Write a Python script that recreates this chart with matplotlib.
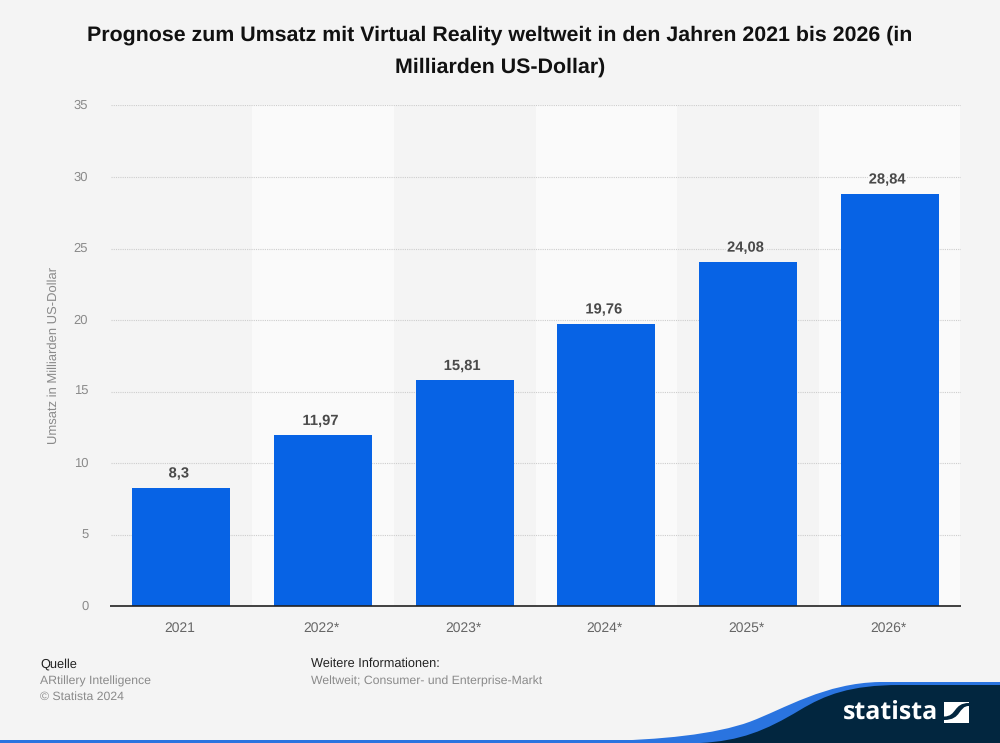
import matplotlib
matplotlib.use("Agg")
import matplotlib.pyplot as plt
import matplotlib.patheffects as pe
from matplotlib.path import Path
from matplotlib.patches import PathPatch, Rectangle
from matplotlib.transforms import ScaledTranslation

plt.rcParams['font.family'] = ['Liberation Sans', 'DejaVu Sans']
plt.rcParams['text.hinting'] = 'none'

# chart values
years = ['2021', '2022*', '2023*', '2024*', '2025*', '2026*']
revenue = [8.3, 11.97, 15.81, 19.76, 24.08, 28.84]
value_labels = ['8,3', '11,97', '15,81', '19,76', '24,08', '28,84']
y_ticks = [0, 5, 10, 15, 20, 25, 30, 35]

W, H = 1000, 743
BG = '#f4f4f4'
BAND = '#fafafa'
BLUE = '#0763e5'
NAVY = '#02263f'
SWOOSH = '#2a74e0'

fig = plt.figure(figsize=(W / 100, H / 100), dpi=100, facecolor=BG)

# overlay in pixel coords for footer shapes, y pointing down
deco = fig.add_axes([0, 0, 1, 1], zorder=0)
deco.set_xlim(0, W)
deco.set_ylim(H, 0)
deco.axis('off')

# axes area in pixels, baseline at 606.3, about 14.31 px per unit
ax_left, ax_right, ax_bottom, ax_top = 110.5, 960.5, 606.3, 104.5
ax = fig.add_axes([ax_left / W, 1 - ax_bottom / H, (ax_right - ax_left) / W, (ax_bottom - ax_top) / H], zorder=1)
ax.patch.set_alpha(0)
ax.set_xlim(-0.5, len(years) - 0.5)
ax.set_ylim(0, (ax_bottom - ax_top) / 14.31)

# lighter band behind every second category
for i in range(1, len(years), 2):
    ax.axvspan(i - 0.5, i + 0.5, color=BAND, lw=0, zorder=0)

ax.set_yticks(y_ticks)
ax.yaxis.grid(True, color='#cdcdcd', lw=0.8, ls=(0, (1, 1)), zorder=1)
ax.set_axisbelow(True)

bars = ax.bar(range(len(years)), revenue, width=0.69, color=BLUE, zorder=2)
for i, (bar, lab) in enumerate(zip(bars, value_labels)):
    halo = BAND if i % 2 else BG
    ax.annotate(lab, (bar.get_x() + bar.get_width() / 2, bar.get_height()),
                xytext=(-1.8, 5.0), textcoords='offset points', ha='center', va='bottom',
                fontsize=10.6, fontweight='bold', color='#4a4a4a', zorder=3,
                path_effects=[pe.withStroke(linewidth=3, foreground=halo)])

for s in ['top', 'left', 'right']:
    ax.spines[s].set_visible(False)
ax.spines['bottom'].set_color('#222222')
ax.spines['bottom'].set_linewidth(1.2)
ax.spines['bottom'].set_capstyle('butt')
ax.spines['bottom'].set_zorder(4)

ax.set_xticks(range(len(years)))
ax.set_xticklabels(years)
ax.tick_params(axis='x', length=0, pad=11, labelsize=10, labelcolor='#666666')
ax.tick_params(axis='y', length=0, pad=16, labelsize=9.4, labelcolor='#8a8a8a')
# tick labels sit a little off the bar centres and gridlines
shift_x = ScaledTranslation(-1.5 / 100, 0, fig.dpi_scale_trans)
for t in ax.get_xticklabels():
    t.set_transform(t.get_transform() + shift_x)
shift_y = ScaledTranslation(0, 1 / 100, fig.dpi_scale_trans)
for t in ax.get_yticklabels():
    t.set_transform(t.get_transform() + shift_y)

fig.text(53.5 / W, 1 - 355 / H, 'Umsatz in Milliarden US-Dollar', rotation=90, ha='center', va='center',
         fontsize=9.4, color='#8a8a8a')

# title
fig.text(500 / W, 1 - 35 / H, 'Prognose zum Umsatz mit Virtual Reality weltweit in den Jahren 2021 bis 2026 (in',
         ha='center', va='center', fontsize=15.37, fontweight='bold', color='#111111')
fig.text(500 / W, 1 - 67 / H, 'Milliarden US-Dollar)', ha='center', va='center',
         fontsize=15.37, fontweight='bold', color='#111111')

# source and notes
fig.text(40 / W, 1 - 664 / H, 'Quelle', ha='left', va='center', fontsize=9.2, color='#222222')
fig.text(40 / W, 1 - 681.5 / H, 'ARtillery Intelligence', ha='left', va='center', fontsize=8.85, color='#8a8a8a')
fig.text(40 / W, 1 - 697 / H, '© Statista 2024', ha='left', va='center', fontsize=8.85, color='#8a8a8a')
fig.text(311 / W, 1 - 664 / H, 'Weitere Informationen:', ha='left', va='center', fontsize=9.2, color='#222222')
fig.text(311 / W, 1 - 681.5 / H, 'Weltweit; Consumer- und Enterprise-Markt', ha='left', va='center',
         fontsize=8.85, color='#8a8a8a')

# footer swoosh and logo
deco.add_patch(Rectangle((0, 740), W, 3, color=SWOOSH, lw=0))
top = Path([(600, 741), (660, 740), (715, 734.5), (750, 721.7), (785, 708.5), (825, 683), (880, 682),
            (1000, 682), (1000, 743), (600, 743), (600, 741)],
           [Path.MOVETO, Path.CURVE4, Path.CURVE4, Path.CURVE4, Path.CURVE4, Path.CURVE4, Path.CURVE4,
            Path.LINETO, Path.LINETO, Path.LINETO, Path.CLOSEPOLY])
deco.add_patch(PathPatch(top, fc=SWOOSH, ec='none'))
navy = Path([(700, 743), (740, 741), (765, 731), (800, 710), (825, 695), (850, 685), (900, 685),
             (1000, 685), (1000, 743), (700, 743)],
            [Path.MOVETO, Path.CURVE4, Path.CURVE4, Path.CURVE4, Path.CURVE4, Path.CURVE4, Path.CURVE4,
             Path.LINETO, Path.LINETO, Path.CLOSEPOLY])
deco.add_patch(PathPatch(navy, fc=NAVY, ec='none'))
deco.text(890.5, 712, 'statista', ha='center', va='center', fontsize=18, fontweight='bold',
          color='white', fontfamily=['Open Sans', 'DejaVu Sans'])
deco.add_patch(Rectangle((944, 702), 25, 21, color='white', lw=0))
wave = Path([(944, 716.5), (957, 716.5), (953, 703), (969, 703), (969, 706), (958, 706), (962, 720), (944, 720), (944, 716.5)],
            [Path.MOVETO, Path.CURVE4, Path.CURVE4, Path.CURVE4, Path.LINETO, Path.CURVE4, Path.CURVE4, Path.CURVE4,
             Path.CLOSEPOLY])
deco.add_patch(PathPatch(wave, fc=NAVY, ec='none'))

fig.savefig('out.png', dpi=100, facecolor=BG)
